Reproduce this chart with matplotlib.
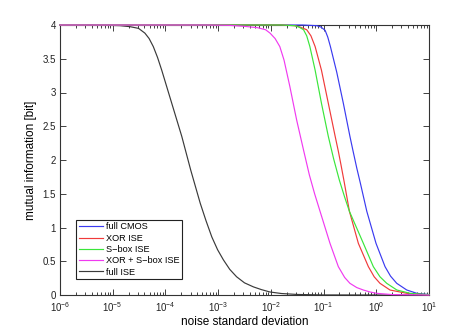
import numpy as np
import matplotlib
matplotlib.use('Agg')
import matplotlib.pyplot as plt
from matplotlib.ticker import LogLocator, NullFormatter, FixedLocator

plt.rcParams['font.family'] = ['Liberation Sans', 'DejaVu Sans']
plt.rcParams['mathtext.fontset'] = 'custom'
plt.rcParams['mathtext.rm'] = 'Liberation Sans'

# noise level as log10(sigma), mutual information in bits
black_logx = [-6.0, -5.3, -4.86, -4.67, -4.51, -4.39, -4.31, -4.23, -4.15, -4.07, -3.88,
              -3.69, -3.52, -3.34, -3.23, -3.12, -3.01, -2.90, -2.78, -2.65, -2.50, -2.33,
              -2.18, -2.02, -1.8, -1.5, -1.0, 1.0]
black_mi = [4.0, 4.0, 3.99, 3.975, 3.95, 3.88, 3.80, 3.68, 3.52, 3.33, 2.84,
            2.35, 1.85, 1.36, 1.10, 0.86, 0.67, 0.52, 0.38, 0.27, 0.18, 0.12,
            0.08, 0.045, 0.022, 0.008, 0.001, 0.0]

blue_logx = [-6.0, -1.4, -1.13, -1.05, -0.97, -0.92, -0.87, -0.75, -0.625, -0.50, -0.44,
             -0.37, -0.30, -0.18, -0.005, 0.166, 0.27, 0.388, 0.578, 0.77, 1.0]
blue_mi = [4.0, 4.0, 3.99, 3.97, 3.92, 3.82, 3.68, 3.30, 2.84, 2.35, 2.13,
           1.88, 1.65, 1.24, 0.765, 0.42, 0.28, 0.173, 0.074, 0.025, 0.006]

red_logx = [-6.0, -1.8, -1.55, -1.45, -1.32, -1.24, -1.16, -1.04, -0.91, -0.78, -0.72,
            -0.67, -0.61, -0.51, -0.34, -0.15, -0.04, 0.07, 0.26, 0.578, 0.8, 1.0]
red_mi = [4.0, 4.0, 3.99, 3.97, 3.93, 3.84, 3.68, 3.33, 2.84, 2.35, 2.13,
          1.93, 1.68, 1.24, 0.765, 0.42, 0.27, 0.173, 0.074, 0.025, 0.01, 0.004]

green_logx = [-6.0, -1.8, -1.55, -1.47, -1.38, -1.32, -1.26, -1.16, -1.04, -0.91, -0.81,
              -0.70, -0.60, -0.51, -0.245, -0.056, 0.07, 0.198, 0.39, 0.64, 0.85, 1.0]
green_mi = [4.0, 4.0, 3.99, 3.97, 3.93, 3.84, 3.68, 3.33, 2.84, 2.35, 2.02,
            1.70, 1.45, 1.24, 0.765, 0.42, 0.27, 0.173, 0.074, 0.025, 0.012, 0.007]

magenta_logx = [-6.0, -3.2, -2.8, -2.5, -2.25, -2.1, -2.016, -1.92, -1.83, -1.75, -1.64,
                -1.51, -1.375, -1.27, -1.17, -1.055, -0.878, -0.72, -0.60, -0.50, -0.37,
                -0.246, -0.12, 0.008, 0.3, 1.0]
magenta_mi = [4.0, 4.0, 3.995, 3.98, 3.96, 3.93, 3.88, 3.80, 3.68, 3.48, 3.09,
              2.59, 2.13, 1.78, 1.50, 1.21, 0.765, 0.42, 0.26, 0.173, 0.11,
              0.074, 0.045, 0.025, 0.006, 0.0]

labels = ['full CMOS', 'XOR ISE', 'S\u2212box ISE', 'XOR + S\u2212box ISE', 'full ISE']
yticks = [0, 0.5, 1, 1.5, 2, 2.5, 3, 3.5, 4]
ytick_labels = ['0', '0.5', '1', '1.5', '2', '2.5', '3', '3.5', '4']

fig = plt.figure(figsize=(4.74, 3.32), dpi=100)
ax = fig.add_axes([60 / 474, 1 - 295 / 332, 369 / 474, 270 / 332])

lw = 0.85
series = [
    (blue_logx, blue_mi, '#3a3af0', labels[0], 3),
    (red_logx, red_mi, '#f03a3a', labels[1], 3),
    (green_logx, green_mi, '#3ae63a', labels[2], 3),
    (magenta_logx, magenta_mi, '#f03af0', labels[3], 3),
    (black_logx, black_mi, '#3a3a3a', labels[4], 2),
]
for lx, mi, c, lab, z in series:
    ax.plot(10 ** np.array(lx), mi, color=c, lw=lw, label=lab, zorder=z, clip_on=False)

ax.set_xscale('log')
ax.set_xlim(1e-6, 1e1)
ax.set_ylim(0, 4)
ax.xaxis.set_major_locator(LogLocator(base=10, numticks=20))
ax.xaxis.set_minor_locator(LogLocator(base=10, subs=np.arange(2, 10), numticks=20))
ax.xaxis.set_minor_formatter(NullFormatter())
ax.yaxis.set_major_locator(FixedLocator(yticks))
ax.set_yticklabels(ytick_labels)

ax.tick_params(which='both', direction='in', top=True, right=True, colors='#222222',
               labelcolor='#222222', labelsize=7, width=0.6)
ax.tick_params(which='major', length=4, pad=3)
ax.tick_params(which='minor', length=2)
ax.tick_params(axis='x', which='major', pad=4)
for s in ax.spines.values():
    s.set_linewidth(0.8)
    s.set_color('#333333')

ax.set_xlabel('noise standard deviation', fontsize=8.5, labelpad=1)
ax.set_ylabel('mutual information [bit]', fontsize=8.5, labelpad=4)

leg = ax.legend(loc='lower left', bbox_to_anchor=(0.044, 0.058), borderaxespad=0,
                fontsize=6.6, handlelength=2.6, handletextpad=0.3, labelspacing=0.25,
                borderpad=0.3, fancybox=False, framealpha=1, edgecolor='#222222')
leg.get_frame().set_linewidth(0.8)
leg.set_zorder(5)

fig.savefig('out.png', dpi=100, facecolor='white')
